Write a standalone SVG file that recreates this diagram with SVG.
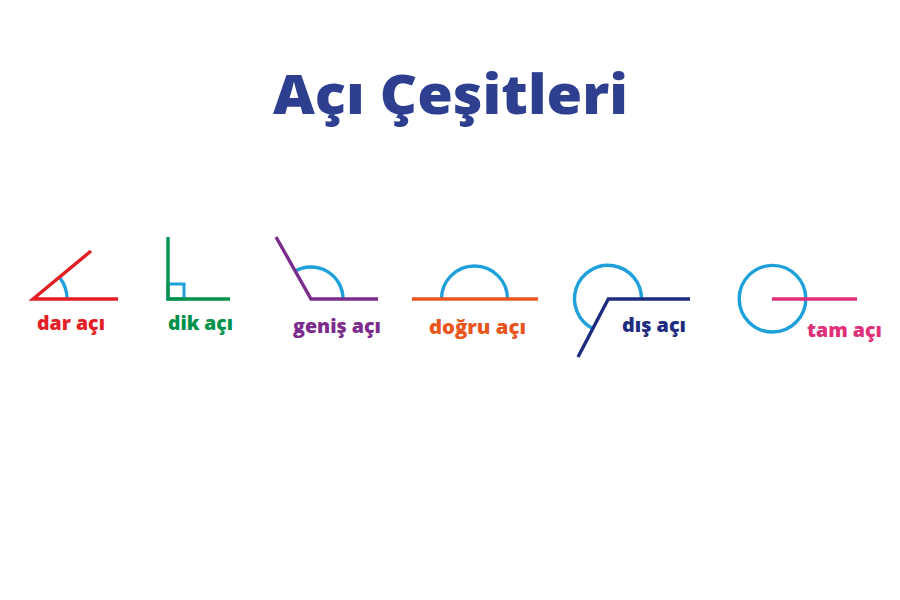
<svg xmlns="http://www.w3.org/2000/svg" width="900" height="600" viewBox="0 0 900 600">
<style>
.ln{fill:none;stroke-width:3.4;stroke-linecap:butt;stroke-linejoin:miter}
.arc{fill:none;stroke:#1ea0db;stroke-width:3.4}
.lbl{font-family:"Open Sans","Liberation Sans",sans-serif;font-weight:800;font-size:19px}
.title{font-family:"Open Sans","Liberation Sans",sans-serif;font-weight:800;font-size:55px;fill:#2f3f90}
</style>
<rect width="900" height="600" fill="#ffffff"/>
<text class="title" x="273" y="114" textLength="355" lengthAdjust="spacingAndGlyphs">Açı Çeşitleri</text>
<g id="dar-aci">
<path class="arc" d="M60,278 A34,34 0 0 1 67,299"/>
<polyline class="ln" stroke="#e31e24" points="91,251 33,299 118,299"/>
<text class="lbl" x="37" y="330" fill="#e31e24" textLength="68" lengthAdjust="spacingAndGlyphs">dar açı</text>
</g>
<g id="dik-aci">
<rect x="168" y="284" width="16" height="15" fill="none" stroke="#1ea0db" stroke-width="3"/>
<polyline class="ln" stroke="#00914a" points="168,237 168,299 230,299"/>
<text class="lbl" x="168" y="330" fill="#00914a" textLength="65" lengthAdjust="spacingAndGlyphs">dik açı</text>
</g>
<g id="genis-aci">
<path class="arc" d="M295.3,271.1 A32,32 0 0 1 343,299"/>
<polyline class="ln" stroke="#7b2c8c" points="276,237 311,299 378,299"/>
<text class="lbl" x="293" y="333" fill="#7b2c8c" textLength="88" lengthAdjust="spacingAndGlyphs">geniş açı</text>
</g>
<g id="dogru-aci">
<path class="arc" d="M441.5,299 A33,33 0 0 1 507.5,299"/>
<line class="ln" stroke="#e8561e" x1="412" y1="299" x2="538" y2="299"/>
<text class="lbl" x="429" y="334" fill="#e8561e" textLength="97" lengthAdjust="spacingAndGlyphs">doğru açı</text>
</g>
<g id="dis-aci">
<path class="arc" d="M641.5,299 A33.5,33.5 0 1 0 592.6,328.6"/>
<polyline class="ln" stroke="#1e2c7f" points="578,357 608.3,299 690,299"/>
<text class="lbl" x="622" y="332" fill="#1e2c7f" textLength="64" lengthAdjust="spacingAndGlyphs">dış açı</text>
</g>
<g id="tam-aci">
<circle class="arc" cx="772.5" cy="298.7" r="33.3"/>
<line class="ln" stroke="#e0307a" x1="772" y1="299" x2="857" y2="299"/>
<text class="lbl" x="807" y="337" fill="#e0307a" textLength="75" lengthAdjust="spacingAndGlyphs">tam açı</text>
</g>
</svg>
